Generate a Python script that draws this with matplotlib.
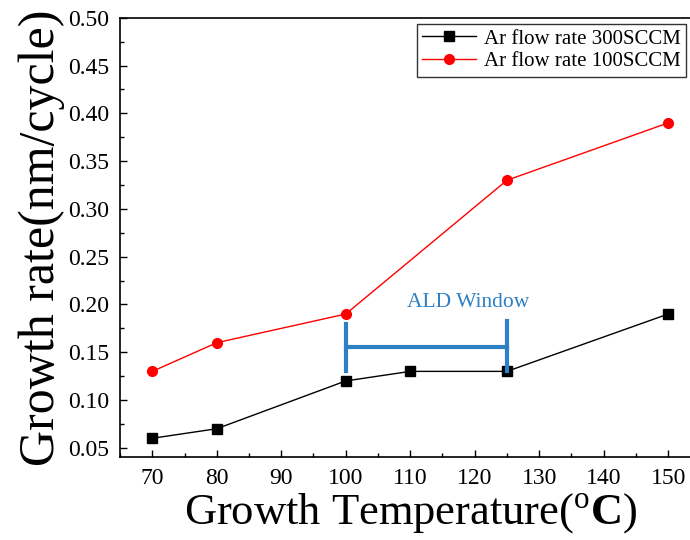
import numpy as np
import matplotlib
matplotlib.use("Agg")
import matplotlib.pyplot as plt
from matplotlib.ticker import MultipleLocator

plt.rcParams['font.family'] = ['Liberation Serif', 'DejaVu Serif']
plt.rcParams['mathtext.fontset'] = 'custom'
plt.rcParams['mathtext.rm'] = 'Liberation Serif'
plt.rcParams['mathtext.bf'] = 'Liberation Serif:bold'

# data
temp_300 = [70, 80, 100, 110, 125, 150]
rate_300 = [0.06, 0.07, 0.12, 0.13, 0.13, 0.19]
temp_100 = [70, 80, 100, 125, 150]
rate_100 = [0.13, 0.16, 0.19, 0.33, 0.39]
window = [100, 125]  # ALD window bracket (x range)

fig = plt.figure(figsize=(6.9, 5.4), dpi=100)
ax = fig.add_axes([0.174, 0.153, 0.841, 0.814])

ax.plot(temp_300, rate_300, color='black', marker='s', markersize=7, lw=1,
        label='Ar flow rate 300SCCM')
ax.plot(temp_100, rate_100, color='red', marker='o', markersize=7, lw=1,
        label='Ar flow rate 100SCCM')

# ALD window bracket
blue = '#2e7fc4'
ax.plot([window[0], window[0]], [0.13, 0.18], color=blue, lw=3)
ax.plot([window[1], window[1]], [0.13, 0.183], color=blue, lw=3)
ax.plot(window, [0.155, 0.155], color=blue, lw=3)
ax.text(119, 0.202, 'ALD Window', color=blue, fontsize=15.5, ha='center', va='center')

ax.set_xlim(65, 155)
ax.set_ylim(0.04, 0.50)
ax.xaxis.set_major_locator(MultipleLocator(10))
ax.xaxis.set_minor_locator(MultipleLocator(5))
ax.yaxis.set_minor_locator(MultipleLocator(0.025))
ax.set_yticks(np.arange(0.05, 0.501, 0.05))
ax.set_yticklabels([f'{v:.2f}' for v in np.arange(0.05, 0.501, 0.05)])
ax.tick_params(which='both', direction='in', top=False, right=False, labelsize=17)
ax.tick_params(which='major', length=5, width=1)
ax.tick_params(which='minor', length=3, width=1)
ax.tick_params(axis='x', pad=8)
ax.tick_params(axis='y', pad=8)

for s in ax.spines.values():
    s.set_linewidth(1.2)

ax.set_xlabel(r'Growth Temperature($^{\mathrm{o}}$$\mathbf{C}$)', fontsize=32, labelpad=2)
ax.set_ylabel('Growth rate(nm/cycle)', fontsize=36, labelpad=2)

leg = ax.legend(loc='upper right', fontsize=15, frameon=True, fancybox=False,
                edgecolor='black', handlelength=2.6, handletextpad=0.4,
                borderpad=0.25, labelspacing=0.15, borderaxespad=0,
                bbox_to_anchor=(0.976, 0.986))
leg.get_frame().set_linewidth(1)

fig.savefig('out.png', dpi=100, facecolor='white')
